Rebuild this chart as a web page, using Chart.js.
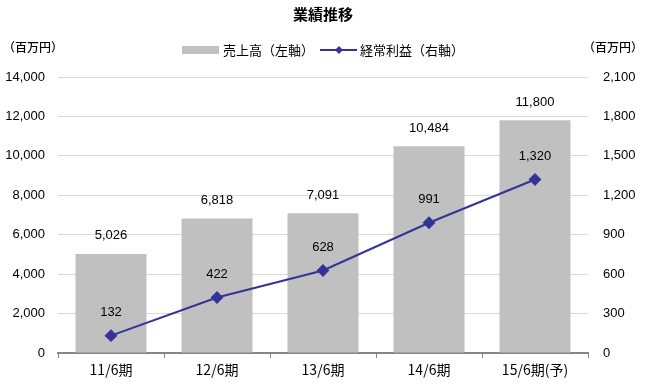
<!DOCTYPE html>
<html>
<head>
<meta charset="utf-8">
<script src="https://cdn.jsdelivr.net/npm/chart.js@4"></script>
<style>
  html, body { margin: 0; padding: 0; background: #fff; }
  #wrap { width: 646px; height: 386px; position: relative; }
</style>
</head>
<body>
<div id="wrap"><canvas id="myChart"></canvas></div>
<script>
const categories = ['11/6期', '12/6期', '13/6期', '14/6期', '15/6期(予)'];
const sales = [5026, 6818, 7091, 10484, 11800];   // 売上高 (左軸)
const ordinaryProfit = [132, 422, 628, 991, 1320]; // 経常利益 (右軸)
const leftTicks = [0, 2000, 4000, 6000, 8000, 10000, 12000, 14000];
const rightTicks = [0, 300, 600, 900, 1200, 1500, 1800, 2100];

const numFont = "'Liberation Sans', Arial, sans-serif";
const jpFont = "'Noto Sans CJK JP', sans-serif";
const fmt = v => v.toLocaleString('en-US');

// title, units, legend and value labels
const extras = {
  id: 'extras',
  afterDatasetsDraw(chart) {
    const ctx = chart.ctx;
    ctx.save();
    ctx.fillStyle = '#000';
    ctx.textBaseline = 'middle';

    // title
    ctx.font = "bold 15px " + jpFont;
    ctx.textAlign = 'center';
    ctx.fillText('業績推移', 323, 14);

    // units
    ctx.font = "500 12px " + jpFont;
    ctx.textAlign = 'left';
    ctx.fillText('（百万円）', 3, 47);
    ctx.fillText('（百万円）', 583, 47);

    // legend
    ctx.font = "13px " + jpFont;
    ctx.fillStyle = '#c0c0c0';
    ctx.fillRect(182, 46, 37, 8);
    ctx.fillStyle = '#000';
    ctx.fillText('売上高（左軸）', 223, 50);
    ctx.strokeStyle = '#333399';
    ctx.lineWidth = 2;
    ctx.beginPath();
    ctx.moveTo(320, 50);
    ctx.lineTo(357, 50);
    ctx.stroke();
    ctx.fillStyle = '#333399';
    ctx.beginPath();
    ctx.moveTo(339, 46); ctx.lineTo(343, 50); ctx.lineTo(339, 54); ctx.lineTo(335, 50);
    ctx.closePath();
    ctx.fill();
    ctx.fillStyle = '#000';
    ctx.fillText('経常利益（右軸）', 360, 50);

    // value labels
    ctx.font = "13px " + numFont;
    ctx.textAlign = 'center';
    chart.getDatasetMeta(1).data.forEach((el, i) => {
      ctx.fillText(fmt(sales[i]), el.x, el.y - 18);
    });
    chart.getDatasetMeta(0).data.forEach((el, i) => {
      ctx.fillText(fmt(ordinaryProfit[i]), el.x, el.y - 23);
    });
    ctx.restore();
  }
};

const ctx = document.getElementById('myChart').getContext('2d');
const chart = new Chart(ctx, {
  data: {
    labels: categories,
    datasets: [
      {
        type: 'line',
        label: '経常利益(右軸)',
        data: ordinaryProfit,
        yAxisID: 'y1',
        borderColor: '#333399',
        backgroundColor: '#333399',
        borderWidth: 2,
        pointStyle: 'rectRot',
        pointRadius: 5,
        pointHoverRadius: 5,
        tension: 0,
        order: 0
      },
      {
        type: 'bar',
        label: '売上高(左軸)',
        data: sales,
        yAxisID: 'y',
        backgroundColor: '#c0c0c0',
        barPercentage: 0.67,
        categoryPercentage: 1,
        order: 1
      }
    ]
  },
  options: {
    responsive: true,
    maintainAspectRatio: false,
    animation: false,
    layout: { padding: { top: 77, left: 0, right: 0, bottom: 0 } },
    plugins: {
      legend: { display: false },
      title: { display: false },
      tooltip: { enabled: false }
    },
    scales: {
      x: {
        grid: { display: true, drawOnChartArea: false, drawTicks: true, tickLength: 5, offset: true, color: '#868686' },
        border: { color: '#868686', width: 2 },
        ticks: { color: '#000', font: { family: jpFont, size: 14 }, padding: 3 },
        afterFit(scale) { scale.height = 33; }
      },
      y: {
        position: 'left',
        min: 0,
        max: 14000,
        afterBuildTicks(scale) { scale.ticks = leftTicks.map(v => ({ value: v })); },
        grid: { color: '#d9d9d9', drawTicks: false },
        border: { display: false },
        ticks: { color: '#000', font: { family: numFont, size: 13 }, padding: 13, callback: v => fmt(v) },
        afterFit(scale) { scale.width = 58; }
      },
      y1: {
        position: 'right',
        min: 0,
        max: 2100,
        afterBuildTicks(scale) { scale.ticks = rightTicks.map(v => ({ value: v })); },
        grid: { drawOnChartArea: false, drawTicks: false },
        border: { display: false },
        ticks: { color: '#000', font: { family: numFont, size: 13 }, padding: 15, callback: v => fmt(v) },
        afterFit(scale) { scale.width = 58; }
      }
    }
  },
  plugins: [extras]
});
</script>
</body>
</html>
